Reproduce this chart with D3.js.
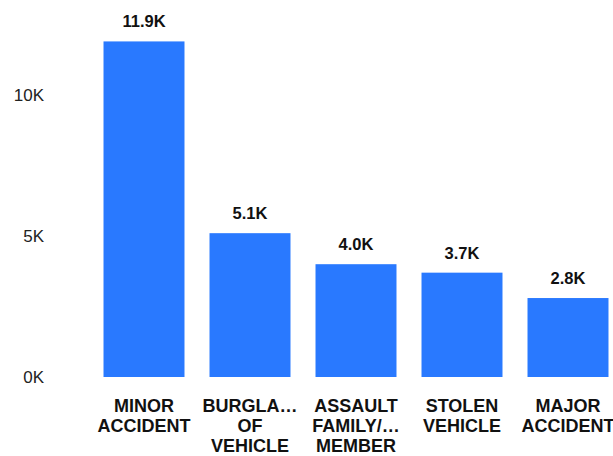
<!DOCTYPE html>
<html>
<head>
<meta charset="utf-8">
<script src="https://cdn.jsdelivr.net/npm/d3@7.9.0/dist/d3.min.js"></script>
<style>
  body { margin: 0; background: #fff; }
  svg { display: block; font-family: "Liberation Sans", Arial, sans-serif; }
</style>
</head>
<body>
<svg width="613" height="456"></svg>
<script>
const categories = [
    ["MINOR", "ACCIDENT"],
    ["BURGLA…", "OF", "VEHICLE"],
    ["ASSAULT", "FAMILY/…", "MEMBER"],
    ["STOLEN", "VEHICLE"],
    ["MAJOR", "ACCIDENT"]
];
const counts = [11900, 5100, 4000, 3700, 2800];
const yTicks = [0, 5000, 10000];

const svg = d3.select('svg');

const x = d3.scaleBand()
    .domain(d3.range(counts.length))
    .range([91, 621])
    .paddingInner(0.236)
    .paddingOuter(0.118);

const y = d3.scaleLinear()
    .domain([0, 10000])
    .range([377, 95]);

// y axis, labels only
const yAxis = d3.axisLeft(y)
    .tickValues(yTicks)
    .tickSize(0)
    .tickPadding(0)
    .tickFormat((d) => `${d / 1000}K`);

const yg = svg.append('g')
    .attr('transform', 'translate(44,0)')
    .call(yAxis);
yg.select('.domain').remove();
yg.selectAll('text')
    .attr('font-family', '"Liberation Sans", Arial, sans-serif')
    .attr('font-size', 17)
    .attr('fill', '#222');

// bars
svg.selectAll('rect.bar')
    .data(counts)
    .join('rect')
    .attr('class', 'bar')
    .attr('x', (d, i) => x(i))
    .attr('y', (d) => y(d))
    .attr('width', x.bandwidth())
    .attr('height', (d) => y(0) - y(d))
    .attr('fill', '#2979ff');

// value labels
svg.selectAll('text.val')
    .data(counts)
    .join('text')
    .attr('class', 'val')
    .attr('x', (d, i) => x(i) + x.bandwidth() / 2)
    .attr('y', (d) => y(d) - 14)
    .attr('text-anchor', 'middle')
    .attr('font-size', 16.5)
    .attr('font-weight', 'bold')
    .attr('fill', '#111')
    .text((d) => `${(d / 1000).toFixed(1)}K`);

// category labels
const xl = svg.selectAll('text.cat')
    .data(categories)
    .join('text')
    .attr('class', 'cat')
    .attr('text-anchor', 'middle')
    .attr('font-size', 18)
    .attr('font-weight', 'bold')
    .attr('fill', '#111');

xl.each(function (lines, i) {
    const t = d3.select(this);
    lines.forEach((line, j) => {
        t.append('tspan')
            .attr('x', x(i) + x.bandwidth() / 2)
            .attr('y', 412 + j * 20)
            .text(line);
    });
});
</script>
</body>
</html>
